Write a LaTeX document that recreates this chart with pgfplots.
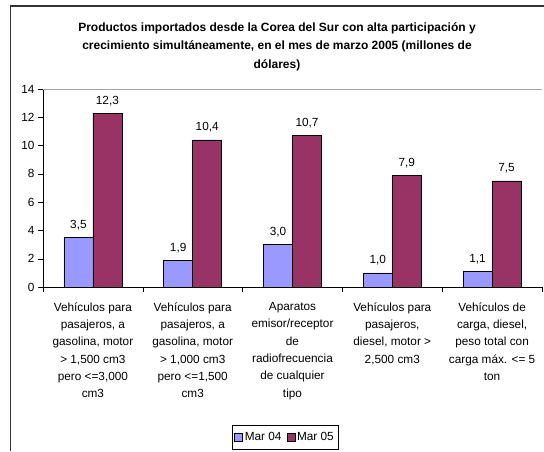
\documentclass[border=0pt]{standalone}
\usepackage{fontspec}
\setmainfont{Liberation Sans}
\usepackage{pgfplots}
\pgfplotsset{compat=1.18}
\definecolor{barblue}{HTML}{9999FF}
\definecolor{barred}{HTML}{993366}
\begin{document}
\begin{tikzpicture}[x=1pt,y=1pt]
\useasboundingbox (0,0) rectangle (544,451);
\draw[line width=1.3pt, black!80] (10.5,0) -- (10.5,445) -- (544,445);
\node[align=center, font=\bfseries\fontsize{12}{18.5}\selectfont, anchor=north, inner sep=0pt] at (277,429)
  {Productos importados desde la Corea del Sur con alta participación y\\
   crecimiento simultáneamente, en el mes de marzo 2005 (millones de\\
   dólares)};
\begin{axis}[
  at={(43pt,164pt)}, anchor=south west,
  scale only axis, width=499pt, height=198pt,
  xmin=-0.5, xmax=4.5, ymin=0, ymax=14,
  ytick={0,2,...,14},
  xtick={-0.5,0.5,...,4.5},
  x tick label as interval,
  xticklabels={
    {Vehículos para\\pasajeros, a\\gasolina, motor\\> 1,500 cm3\\pero <=3,000\\cm3},
    {Vehículos para\\pasajeros, a\\gasolina, motor\\> 1,000 cm3\\pero <=1,500\\cm3},
    {Aparatos\\emisor/receptor\\de\\radiofrecuencia\\de cualquier\\tipo},
    {Vehículos para\\pasajeros,\\diesel, motor >\\2,500 cm3},
    {Vehículos de\\carga, diesel,\\peso total con\\carga máx. <= 5\\ton}},
  xticklabel style={align=center, font=\fontsize{11.8}{17.3}\selectfont, yshift=-7pt},
  yticklabel style={font=\fontsize{11.8}{13}\selectfont},
  /pgf/number format/assume math mode=true,
  axis x line*=bottom, axis y line*=left,
  axis line style={black, -},
  tick align=outside, major tick length=5pt,
  tick style={black, thin},
  ybar=0pt, bar width=29pt,
  nodes near coords,
  every node near coord/.append style={font=\fontsize{11.8}{13}\selectfont, anchor=base, yshift=9pt,
    /pgf/number format/.cd, fixed, fixed zerofill, precision=1, use comma},
  legend columns=2,
  legend style={at={(0.485,-0.758)}, anchor=center, draw=black, thin,
    font=\fontsize{11.8}{13}\selectfont, inner xsep=2pt, inner ysep=5pt,
    /tikz/every even column/.append style={column sep=3pt}},
  legend image code/.code={\draw[#1, draw=black, line width=0.5pt] (0pt,-4pt) rectangle (8pt,4pt);},
]
\addplot[fill=barblue, draw=black, line width=0.5pt] coordinates {(0,3.5) (1,1.9) (2,3.0) (3,1.0) (4,1.1)};
\addplot[fill=barred, draw=black, line width=0.5pt] coordinates {(0,12.3) (1,10.4) (2,10.7) (3,7.9) (4,7.5)};
\legend{Mar 04, Mar 05}
\draw[gray!70, thin] (rel axis cs:0,1) -- (rel axis cs:1,1) -- (rel axis cs:1,0);
\end{axis}
\end{tikzpicture}
\end{document}
